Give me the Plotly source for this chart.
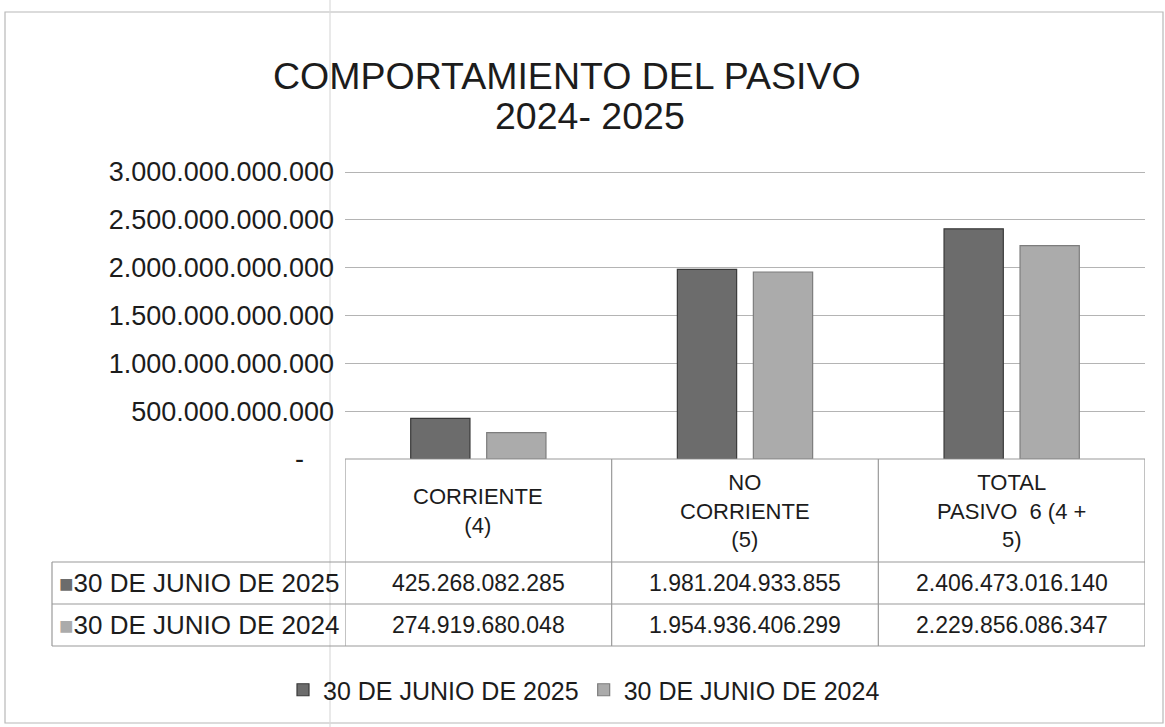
import plotly.graph_objects as go

# ---------------- data ----------------
categories = ["CORRIENTE<br>(4)", "NO<br>CORRIENTE<br>(5)", "TOTAL<br>PASIVO  6 (4 +<br>5)"]
series_names = ["30 DE JUNIO DE 2025", "30 DE JUNIO DE 2024"]
values_2025 = [425268082285, 1981204933855, 2406473016140]
values_2024 = [274919680048, 1954936406299, 2229856086347]
tick_values = [0, 500e9, 1000e9, 1500e9, 2000e9, 2500e9, 3000e9]
tick_labels = ["-\u00a0\u00a0\u00a0\u00a0", "500.000.000.000", "1.000.000.000.000", "1.500.000.000.000",
               "2.000.000.000.000", "2.500.000.000.000", "3.000.000.000.000"]
title_line1 = "COMPORTAMIENTO DEL PASIVO"
title_line2 = "2024- 2025"

colors = ["#6c6c6c", "#ababab"]
edge_colors = ["#3a3a3a", "#7d7d7d"]
FONT = "Liberation Sans, Arial, sans-serif"
TXT = "#1c1c1c"

W, H = 1165, 727
L, R, T, B = 345, 20, 170, 268
PW, PH = W - L - R, H - T - B
Y_MAX = 3000e9 * (1 + 2 / 287)


def px_x(px):
    return (px - L) / PW


def px_y(py):
    return (H - B - py) / PH


def fmt(v):
    return f"{v:,}".replace(",", ".")


fig = go.Figure()
all_series = [values_2025, values_2024]
xs = list(range(len(categories)))
for name, vals, c, ec in zip(series_names, all_series, colors, edge_colors):
    fig.add_trace(go.Bar(
        x=xs, y=vals, name=name,
        marker=dict(color=c, line=dict(color=ec, width=1.2)),
        hoverinfo="skip",
    ))

fig.update_layout(
    width=W, height=H,
    margin=dict(l=L, r=R, t=T, b=B),
    paper_bgcolor="white", plot_bgcolor="white",
    barmode="group", bargap=0.43, bargroupgap=0.22,
    font=dict(family=FONT, color=TXT),
    showlegend=True,
    legend=dict(orientation="h", x=px_x(584), y=px_y(690), xanchor="center", yanchor="middle",
                font=dict(size=25, family=FONT, color=TXT), itemwidth=30,
                bgcolor="rgba(0,0,0,0)", traceorder="normal"),
)
fig.update_xaxes(range=[-0.5, len(categories) - 0.5], showticklabels=False, showgrid=False,
                 zeroline=False, showline=False, ticks="")
fig.update_yaxes(range=[0, Y_MAX], tickvals=tick_values, ticktext=tick_labels,
                 tickfont=dict(size=27, family=FONT, color=TXT), ticklabelstandoff=10,
                 showgrid=True, gridcolor="#b4b4b4", gridwidth=1.2,
                 zeroline=False, showline=False, ticks="")

shapes = []
line_c = "#9a9a9a"
# frame and fold line (scan)
shapes.append(dict(type="rect", xref="paper", yref="paper", x0=px_x(5), x1=px_x(1163), y0=px_y(723), y1=px_y(12),
                   line=dict(color="#b8b8b8", width=1.2), layer="below"))
shapes.append(dict(type="line", xref="paper", yref="paper", x0=px_x(330), x1=px_x(330), y0=px_y(727), y1=px_y(0),
                   line=dict(color="#dadada", width=1.2), layer="below"))
# table grid
y_top, y_hdr, y_mid, y_bot = 459, 562, 604, 646
x_left = 52
n = len(categories)
for i in range(n + 1):
    shapes.append(dict(type="line", xref="x", yref="paper", x0=i - 0.5, x1=i - 0.5,
                       y0=px_y(y_bot), y1=px_y(y_top), line=dict(color=line_c, width=1.2)))
shapes.append(dict(type="line", xref="x", yref="paper", x0=-0.5, x1=n - 0.5, y0=px_y(y_top), y1=px_y(y_top),
                   line=dict(color=line_c, width=1.2)))
for yy in (y_hdr, y_mid, y_bot):
    shapes.append(dict(type="line", xref="paper", yref="paper", x0=px_x(x_left), x1=1, y0=px_y(yy), y1=px_y(yy),
                       line=dict(color=line_c, width=1.2)))
shapes.append(dict(type="line", xref="paper", yref="paper", x0=px_x(x_left), x1=px_x(x_left),
                   y0=px_y(y_bot), y1=px_y(y_hdr), line=dict(color=line_c, width=1.2)))
fig.update_layout(shapes=shapes)

ann = []
ann.append(dict(text=title_line1, xref="paper", yref="paper", x=px_x(567), y=px_y(76), showarrow=False,
                xanchor="center", yanchor="middle", font=dict(size=37.5, family=FONT, color=TXT)))
ann.append(dict(text=title_line2, xref="paper", yref="paper", x=px_x(590), y=px_y(116), showarrow=False,
                xanchor="center", yanchor="middle", font=dict(size=37.5, family=FONT, color=TXT)))
for i, cat in enumerate(categories):
    ann.append(dict(text=cat, xref="x", yref="paper", x=i, y=px_y(511), showarrow=False,
                    xanchor="center", yanchor="middle", font=dict(size=22, family=FONT, color=TXT)))
row_y = [px_y(583), px_y(625)]
for name, vals, c, ry in zip(series_names, all_series, colors, row_y):
    ann.append(dict(text=f"<span style='color:{c};font-size:24px'>■</span>{name}", xref="paper", yref="paper",
                    x=px_x(199), y=ry, showarrow=False, xanchor="center", yanchor="middle",
                    font=dict(size=26, family=FONT, color=TXT)))
    for i, v in enumerate(vals):
        ann.append(dict(text=fmt(v), xref="x", yref="paper", x=i, y=ry, showarrow=False,
                        xanchor="center", yanchor="middle", font=dict(size=23, family=FONT, color=TXT)))
fig.update_layout(annotations=ann)

fig.write_html("out.html", config={"displayModeBar": False},
               post_script="document.body.style.margin='0';document.body.style.overflow='hidden';")
